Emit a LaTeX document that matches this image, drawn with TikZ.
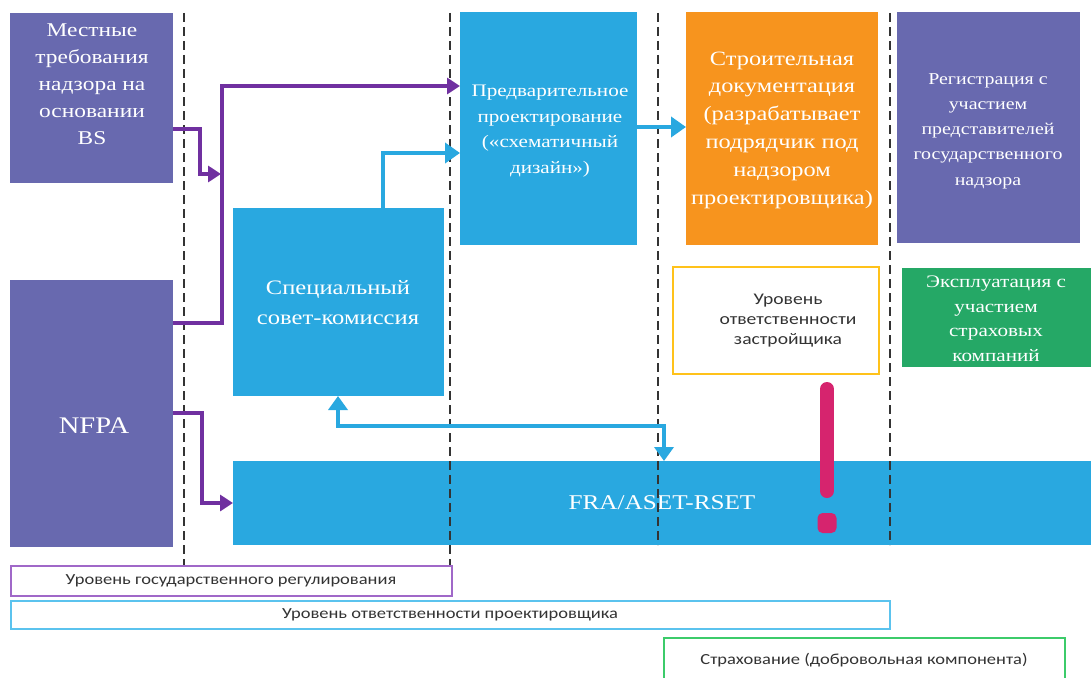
\documentclass[tikz,border=0pt]{standalone}
\usepackage{fontspec}
\setmainfont{Liberation Serif}[FakeStretch=1.2]
\newfontfamily\labfont{Carlito}[FakeStretch=1.2]
\usetikzlibrary{arrows.meta,calc}
\definecolor{slate}{HTML}{6869AF}
\definecolor{cyanbox}{HTML}{29A8E0}
\definecolor{orangebox}{HTML}{F7941E}
\definecolor{greenbox}{HTML}{25A866}
\definecolor{yellowline}{HTML}{FFC21A}
\definecolor{pinkmark}{HTML}{D6246E}
\definecolor{purplearrow}{HTML}{7030A0}
\definecolor{purpleline}{HTML}{A068C8}
\definecolor{cyanline}{HTML}{5BC3EE}
\definecolor{greenline}{HTML}{3CCB6A}
\definecolor{dashgray}{HTML}{333333}
\definecolor{labgray}{HTML}{333333}
\begin{document}
\begin{tikzpicture}[x=1pt,y=-1pt,
  fillbox/.style={draw=none, inner sep=0pt, outer sep=0pt},
  boxtext/.style={text=white, align=center, inner sep=0pt},
  labtext/.style={text=labgray, align=center, inner sep=0pt, font=\labfont\fontsize{15.4}{20}\selectfont},
  outline/.style={draw, line width=2pt, fill=none, inner sep=0pt},
  divider/.style={dashgray, line width=2pt, dash pattern=on 9pt off 5pt},
  parrow/.style={purplearrow, line width=4pt, -{Triangle[length=13pt,width=16pt]}},
  carrow/.style={cyanbox, line width=4.5pt, -{Triangle[length=15pt,width=20pt]}},
  cdouble/.style={cyanbox, line width=4.5pt, {Triangle[length=14pt,width=19pt]}-{Triangle[length=14pt,width=19pt]}}
]
\useasboundingbox (0,0) rectangle (1091,677);
\fill[white] (0,0) rectangle (1091,677);

% boxes
\node[fillbox, fill=slate, minimum width=163pt, minimum height=170pt] (mest) at (91.5,98) {};
\node[fillbox, fill=slate, minimum width=163pt, minimum height=267pt] (nfpa) at (91.5,413.5) {};
\node[fillbox, fill=cyanbox, minimum width=211pt, minimum height=188pt] (council) at (338.5,302) {};
\node[fillbox, fill=cyanbox, minimum width=177pt, minimum height=233pt] (pred) at (548.5,128.5) {};
\node[fillbox, fill=orangebox, minimum width=192pt, minimum height=233pt] (docs) at (782,128.5) {};
\node[fillbox, fill=slate, minimum width=183pt, minimum height=231pt] (reg) at (988.5,127.5) {};
\node[fillbox, fill=greenbox, minimum width=189pt, minimum height=99pt] (expl) at (996.5,317.5) {};
\node[fillbox, fill=cyanbox, minimum width=858pt, minimum height=84pt] (fra) at (662,503) {};
\node[outline, draw=yellowline, minimum width=206pt, minimum height=107pt] (dev) at (776,320.5) {};

% box texts
\node[boxtext, font=\fontsize{19.5}{27}\selectfont] (mestt) at (92,84) {Местные\\требования\\надзора на\\основании\\BS};
\node[boxtext, font=\fontsize{23.8}{27}\selectfont] (nfpat) at (94,426) {NFPA};
\node[boxtext, font=\fontsize{20.5}{30}\selectfont] (councilt) at (338,303) {Специальный\\совет-комиссия};
\node[boxtext, font=\fontsize{17.6}{25.5}\selectfont] (predt) at (550,131) {Предварительное\\проектирование\\(«схематичный\\дизайн»)};
\node[boxtext, font=\fontsize{20.3}{27.8}\selectfont] (docst) at (782,130) {Строительная\\документация\\(разрабатывает\\подрядчик под\\надзором\\проектировщика)};
\node[boxtext, font=\fontsize{16.6}{25.3}\selectfont] (regt) at (988,131) {Регистрация с\\участием\\представителей\\государственного\\надзора};
\node[boxtext, font=\fontsize{17.6}{24.5}\selectfont] (explt) at (996,319) {Эксплуатация с\\участием\\страховых\\компаний};
\node[boxtext, font=\fontsize{21}{27}\selectfont] (frat) at (662,503) {FRA/ASET-RSET};
\node[labtext, font=\labfont\fontsize{16.3}{20}\selectfont] (devt) at (788,321) {Уровень\\ответственности\\застройщика};

% bottom level bars
\node[outline, draw=purpleline, minimum width=441pt, minimum height=30pt] (gov) at (231,580.5) {};
\node[labtext] at (gov.center) {Уровень государственного регулирования};
\node[outline, draw=cyanline, minimum width=879pt, minimum height=28pt] (des) at (450,614.5) {};
\node[labtext] at (des.center) {Уровень ответственности проектировщика};
\coordinate (insl) at (664,682);
\coordinate (insr) at (1065,682);
\draw[greenline, line width=2pt] (insl) |- (864,638) -| (insr);
\node[labtext] (inst) at (864,660) {Страхование (добровольная компонента)};

% dividers
\coordinate (d1t) at (184,13); \coordinate (d1b) at (184,565);
\coordinate (d2t) at (450,13); \coordinate (d2b) at (450,565);
\coordinate (d3t) at (658,13); \coordinate (d3b) at (658,545);
\coordinate (d4t) at (890,13); \coordinate (d4b) at (890,545);
\draw[divider] (d1t) -- (d1b);
\draw[divider] (d2t) -- (d2b);
\draw[divider] (d3t) -- (d3b);
\draw[divider] (d4t) -- (d4b);

% purple connectors
\draw[parrow] (mest.east |- 0,129) -- (200,129) -- (200,174) -- (221,174);
\draw[parrow] (nfpa.east |- 0,323) -- (222,323) -- (222,86) -- (pred.west |- 0,86);
\draw[parrow] (nfpa.east |- 0,413) -- (202,413) -- (202,503) -- (fra.west |- 0,503);

% cyan connectors
\draw[carrow] (council.north -| 383,0) -- (383,153) -- (pred.west |- 0,153);
\draw[carrow] (pred.east |- 0,127) -- (docs.west |- 0,127);
\draw[cdouble] (council.south -| 338,0) -- (338,426) -- (664,426) -- (fra.north -| 664,0);

% exclamation mark
\draw[pinkmark, line width=14pt, line cap=round] (827,389) -- (827,491);
\fill[pinkmark, rounded corners=5pt] (817.5,513) rectangle (836.5,533);
\end{tikzpicture}
\end{document}
